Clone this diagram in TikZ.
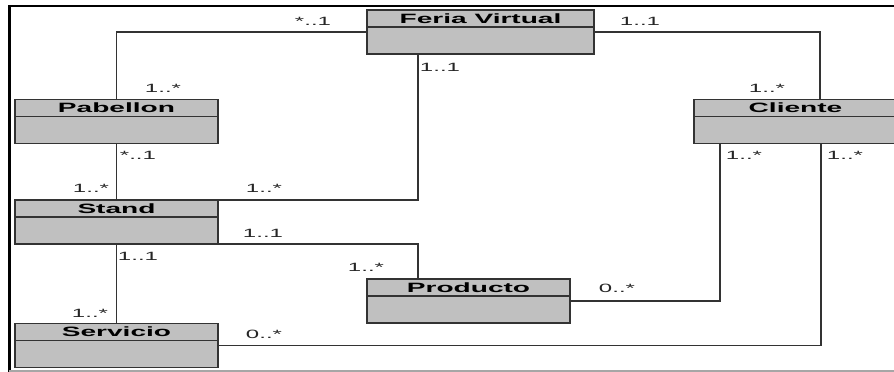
\documentclass[tikz,border=0pt]{standalone}
\usepackage{fontspec}
\setmainfont{Liberation Sans}
\newfontfamily\namefont[FakeStretch=2.08]{Liberation Sans}
\newfontfamily\multfont[FakeStretch=2.0]{Liberation Sans}
\usetikzlibrary{calc}
\definecolor{boxgray}{HTML}{C0C0C0}
\definecolor{linegray}{HTML}{333333}
\tikzset{
  classbox/.style={draw=linegray, line width=1.8pt, fill=boxgray, rectangle,
    minimum height=44pt, inner sep=0pt, outer sep=0pt},
  classname/.style={font=\namefont\bfseries\fontsize{13.5}{14}\selectfont, text=black, inner sep=0pt},
  mult/.style={font=\multfont\fontsize{12}{13}\selectfont, text=black!85, inner sep=0pt},
  assoc/.style={draw=linegray, line width=1.5pt},
  framebk/.style={draw=black, line width=2.8pt},
}
\newcommand{\umlclass}[5]{% name, x, y, width, text
  \node[classbox, minimum width=#4pt] (#1) at (#2,#3) {};
  \node[classname] (#1name) at ([yshift=-8.5pt]#1.north) {#5};
  \draw[draw=linegray, line width=1.3pt] ([yshift=-17pt]#1.north west) -- ([yshift=-17pt]#1.north east);
}
\begin{document}
\begin{tikzpicture}[x=1pt,y=-1pt]
\useasboundingbox (0,0) rectangle (894,372);
\clip (0,0) rectangle (894,372);
\fill[white] (0,0) rectangle (894,372);
% frame
\coordinate (ftl) at (9.3,6);
\coordinate (ftr) at (894,6);
\coordinate (fbl) at (9.3,372);
\coordinate (fbr) at (894,370.8);
\draw[framebk] (ftr) -- (ftl) -- (fbl);
\draw[draw=gray!70, line width=1.5pt] (9.3,370.8) -- (fbr);

% classes
\umlclass{feria}{480.5}{32}{227}{Feria Virtual}
\umlclass{pabellon}{116.5}{121.5}{203}{Pabellon}
\umlclass{cliente}{795.5}{121.5}{203}{Cliente}
\umlclass{stand}{116.5}{222}{203}{Stand}
\umlclass{producto}{468.5}{301}{203}{Producto}
\umlclass{servicio}{116.5}{345.5}{203}{Servicio}

% associations
\draw[assoc] (feria.west) -| (pabellon.north);
\draw[assoc] (feria.east) -| ([xshift=24.5pt]cliente.north);
\draw[assoc] ([xshift=-62.5pt]feria.south) |- (stand.north east);
\draw[assoc] (pabellon.south) -- (stand.north);
\draw[assoc] (stand.south) -- (servicio.north);
\draw[assoc] (stand.south east) -| ([xshift=-50.5pt]producto.north);
\draw[assoc] (producto.east) -| ([xshift=-75.5pt]cliente.south);
\draw[assoc] (servicio.east) -| ([xshift=25.5pt]cliente.south);

% multiplicities
\node[mult] (m1) at (313,21) {*..1};
\node[mult] (m2) at (640,21) {1..1};
\node[mult] (m3) at (163,88) {1..*};
\node[mult] (m4) at (767,88) {1..*};
\node[mult] (m5) at (440,67) {1..1};
\node[mult] (m6) at (138,155) {*..1};
\node[mult] (m7) at (91,188) {1..*};
\node[mult] (m8) at (264,188) {1..*};
\node[mult] (m9) at (263,233) {1..1};
\node[mult] (m10) at (138,256) {1..1};
\node[mult] (m11) at (366,267) {1..*};
\node[mult] (m12) at (90,313) {1..*};
\node[mult] (m13) at (264,334) {0..*};
\node[mult] (m14) at (617,288) {0..*};
\node[mult] (m15) at (744,155) {1..*};
\node[mult] (m16) at (845,155) {1..*};
\end{tikzpicture}
\end{document}
